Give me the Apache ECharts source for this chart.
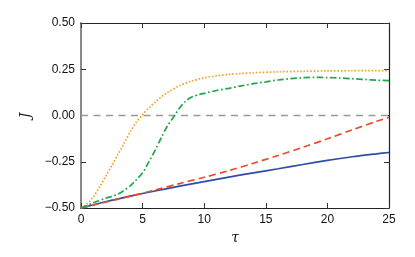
<!DOCTYPE html>
<html><head><meta charset="utf-8">
<script src="https://cdn.jsdelivr.net/npm/echarts@6/dist/echarts.min.js"></script>
<style>html,body{margin:0;padding:0;background:#fff}#c{width:415px;height:257px}</style>
</head><body><div id="c"></div>
<script>
var xTicks = [0, 5, 10, 15, 20, 25];
var yTicks = [-0.5, -0.25, 0, 0.25, 0.5];

var tauBlue = [0, 2, 4, 6, 8, 10, 12, 14, 16, 18, 20, 22, 24, 25];
var jBlue = [-0.5, -0.466, -0.436, -0.408, -0.382, -0.357, -0.333, -0.31, -0.288, -0.265, -0.243, -0.223, -0.207, -0.2];

var tauRed = [0, 2, 4, 6, 8, 10, 12, 14, 16, 18, 20, 22, 24, 25];
var jRed = [-0.5, -0.468, -0.436, -0.403, -0.368, -0.334, -0.298, -0.258, -0.216, -0.172, -0.126, -0.078, -0.031, -0.01];

var tauOrange = [0, 0.5, 1, 1.5, 2, 2.5, 3, 3.5, 4, 4.5, 5, 5.5, 6, 6.5, 7, 8, 9, 10, 11, 12, 13, 14, 16, 18, 20, 22, 25];
var jOrange = [-0.5, -0.478, -0.44, -0.387, -0.33, -0.27, -0.21, -0.15, -0.088, -0.035, 0.005, 0.04, 0.071, 0.1, 0.124, 0.161, 0.186, 0.204, 0.214, 0.222, 0.227, 0.231, 0.236, 0.239, 0.241, 0.242, 0.243];

var tauGreen = [0, 1, 2, 3, 4, 4.5, 5, 5.5, 6, 6.5, 7, 7.5, 8, 8.5, 9, 9.5, 10, 11, 12, 13, 14, 15, 16, 17, 18, 19, 20, 21, 22, 23, 24, 25];
var jGreen = [-0.5, -0.472, -0.447, -0.425, -0.38, -0.347, -0.31, -0.252, -0.19, -0.122, -0.058, -0.01, 0.04, 0.078, 0.1, 0.112, 0.12, 0.135, 0.147, 0.16, 0.172, 0.182, 0.192, 0.199, 0.204, 0.206, 0.205, 0.203, 0.199, 0.195, 0.191, 0.188];

var tauZero = [0, 25];
var jZero = [0, 0];

function pairs(xs, ys) { return xs.map(function (x, i) { return [x, ys[i]]; }); }
function fmtY(v) {
  var s = Math.abs(v).toFixed(2);
  return (v < 0 ? '\u2212' : '') + s;
}

var chart = echarts.init(document.getElementById('c'));
var tickStyle = { show: true, inside: true, length: 5, lineStyle: { color: '#333', width: 1 } };
chart.setOption({
  animation: false,
  backgroundColor: '#fff',
  grid: { left: 81, right: 26, top: 23, bottom: 49, containLabel: false },
  xAxis: [{
    type: 'value', min: xTicks[0], max: xTicks[xTicks.length - 1], interval: 5,
    position: 'bottom',
    axisLine: { show: true, onZero: false, lineStyle: { color: '#222', width: 1.2 } },
    axisTick: tickStyle,
    splitLine: { show: false },
    axisLabel: { color: '#111', fontSize: 12, fontFamily: 'Liberation Sans', margin: 6 },
    name: '\u03c4', nameLocation: 'middle', nameGap: 22,
    nameTextStyle: { fontFamily: 'DejaVu Serif', fontStyle: 'italic', fontSize: 14, color: '#111' }
  }, {
    type: 'value', min: 0, max: 25, interval: 5, position: 'top',
    axisLine: { show: true, onZero: false, lineStyle: { color: '#222', width: 1.2 } },
    axisTick: tickStyle, axisLabel: { show: false }, splitLine: { show: false }
  }],
  yAxis: [{
    type: 'value', min: yTicks[0], max: yTicks[yTicks.length - 1], interval: 0.25,
    position: 'left',
    axisLine: { show: true, onZero: false, lineStyle: { color: '#888', width: 2 } },
    axisTick: tickStyle,
    splitLine: { show: false },
    axisLabel: { color: '#111', fontSize: 12, fontFamily: 'Liberation Sans', margin: 6, formatter: fmtY },
    name: 'J', nameLocation: 'middle', nameGap: 47, nameRotate: 90,
    nameTextStyle: { fontFamily: 'DejaVu Serif', fontStyle: 'italic', fontSize: 14, color: '#111' }
  }, {
    type: 'value', min: -0.5, max: 0.5, interval: 0.25, position: 'right',
    axisLine: { show: true, onZero: false, lineStyle: { color: '#222', width: 1.2 } },
    axisTick: tickStyle, axisLabel: { show: false }, splitLine: { show: false }
  }],
  series: [
    { type: 'line', data: pairs(tauZero, jZero), symbol: 'none', silent: true,
      lineStyle: { color: '#999', width: 1.3, type: [7, 5.5] } },
    { type: 'line', data: pairs(tauBlue, jBlue), symbol: 'none', smooth: 0.3,
      lineStyle: { color: '#2f4ca6', width: 1.7 } },
    { type: 'line', data: pairs(tauRed, jRed), symbol: 'none', smooth: 0.3,
      lineStyle: { color: '#ee4a2a', width: 1.7, type: [7, 4] } },
    { type: 'line', data: pairs(tauOrange, jOrange), symbol: 'none', smooth: 0.3,
      lineStyle: { color: '#f2a325', width: 1.7, type: [1.6, 1.8] } },
    { type: 'line', data: pairs(tauGreen, jGreen), symbol: 'none', smooth: 0.3,
      lineStyle: { color: '#1fa84a', width: 1.7, type: [6.5, 2.5, 1.7, 2.5] } }
  ]
});
</script>
</body></html>
